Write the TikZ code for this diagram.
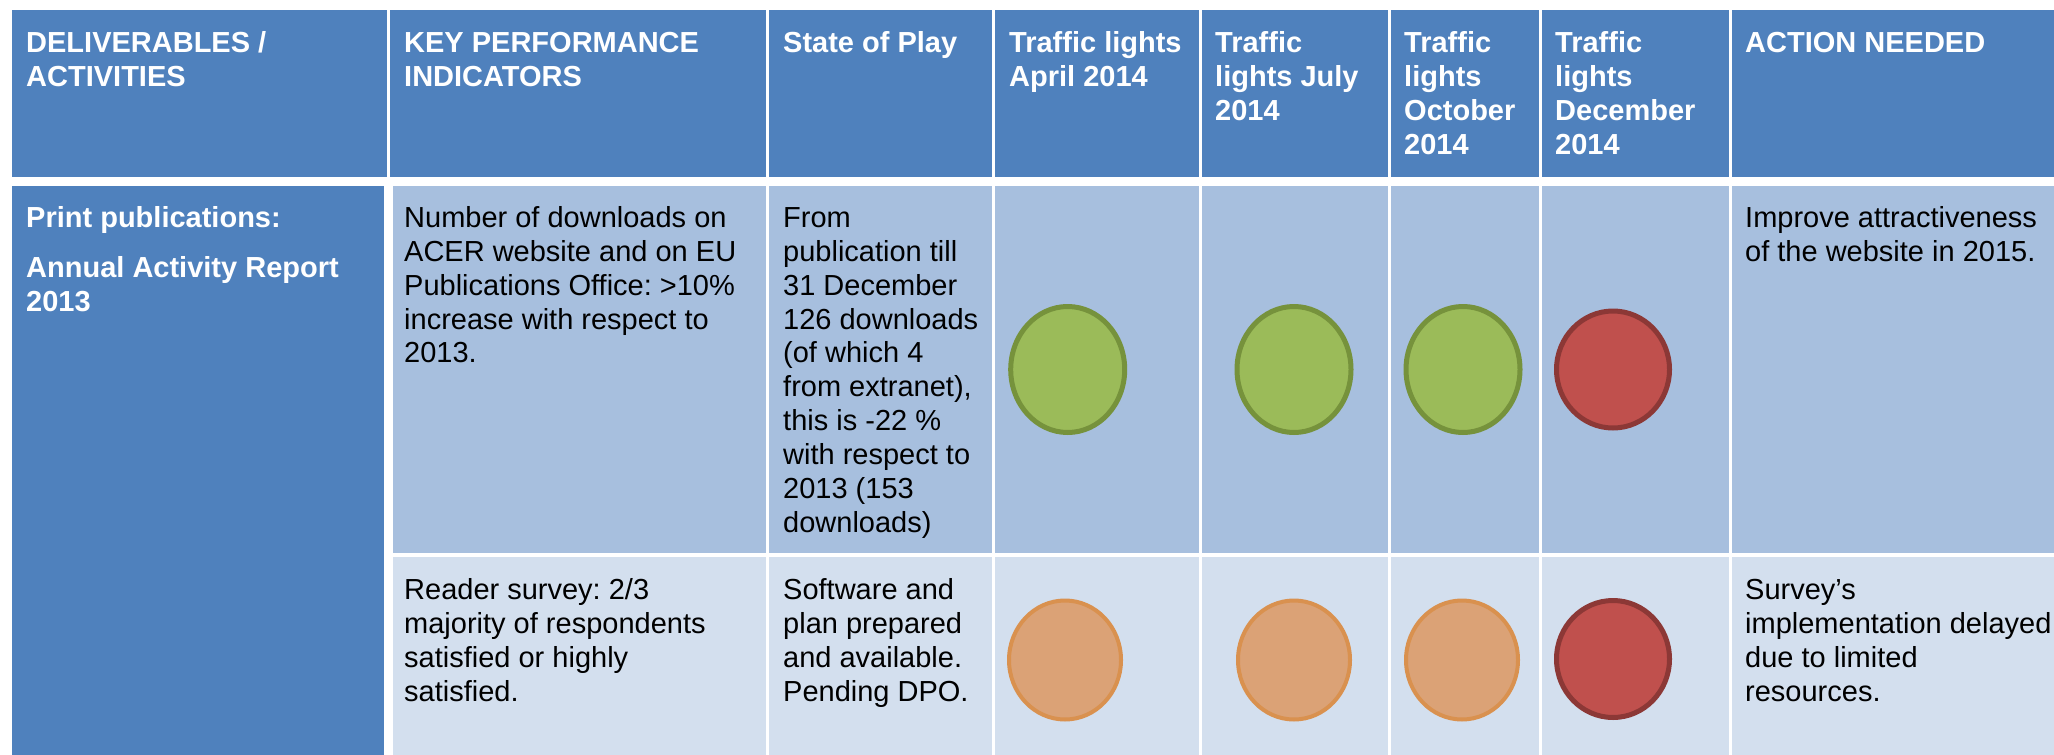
\documentclass[tikz,border=0pt]{standalone}
\usepackage{fontspec}
\setmainfont{Liberation Sans}
\usetikzlibrary{shapes.geometric}
\definecolor{hdrblue}{HTML}{4F81BD}
\definecolor{rowone}{HTML}{A7BFDE}
\definecolor{rowtwo}{HTML}{D3DFEE}
\definecolor{grnfill}{HTML}{9BBB59}
\definecolor{grnline}{HTML}{76923C}
\definecolor{redfill}{HTML}{C0504D}
\definecolor{redline}{HTML}{8C3836}
\definecolor{orgfill}{HTML}{DBA276}
\definecolor{orgline}{HTML}{D9914F}
\frenchspacing
\tikzset{
  hdrtxt/.style={anchor=base west, inner sep=0pt, text=white, font=\fontsize{29}{33.9}\selectfont\bfseries\frenchspacing},
  bodytxt/.style={anchor=base west, inner sep=0pt, text=black, font=\fontsize{29}{33.9}\selectfont\frenchspacing},
  lamp/.style={ellipse, inner sep=0pt},
  greenlamp/.style={lamp, fill=grnfill, draw=grnline, line width=5pt, minimum width=114pt, minimum height=126pt},
  redlamp/.style={lamp, fill=redfill, draw=redline, line width=5pt, minimum width=113pt, minimum height=117pt},
  orangelamp/.style={lamp, fill=orgfill, draw=orgline, line width=4pt, minimum width=112pt, minimum height=119pt},
}
\newcommand\cm{,}
\newcommand\celllines[5]{%
  \foreach \l [count=\i] in {#5}{\node[#1] (#2-\i) at (#3,{#4+(\i-1)*33.9}) {\l};}}
\begin{document}
\begin{tikzpicture}[x=1pt,y=-1pt]
\useasboundingbox (0,0) rectangle (2054,755);
\clip (0,0) rectangle (2054,755);
\fill[white] (0,0) rectangle (2054,755);
% header cells
\fill[hdrblue] (12,10) rectangle (387,176.7);
\fill[hdrblue] (390,10) rectangle (766,176.7);
\fill[hdrblue] (769,10) rectangle (992,176.7);
\fill[hdrblue] (995,10) rectangle (1199,176.7);
\fill[hdrblue] (1202,10) rectangle (1388,176.7);
\fill[hdrblue] (1391,10) rectangle (1539,176.7);
\fill[hdrblue] (1542,10) rectangle (1729,176.7);
\fill[hdrblue] (1732,10) rectangle (2060,176.7);
% first column body
\fill[hdrblue] (12,186) rectangle (384,760);
% row 1
\fill[rowone] (393,186) rectangle (766,553.3);
\fill[rowone] (769,186) rectangle (992,553.3);
\fill[rowone] (995,186) rectangle (1199,553.3);
\fill[rowone] (1202,186) rectangle (1388,553.3);
\fill[rowone] (1391,186) rectangle (1539,553.3);
\fill[rowone] (1542,186) rectangle (1729,553.3);
\fill[rowone] (1732,186) rectangle (2060,553.3);
% row 2
\fill[rowtwo] (393,556.8) rectangle (766,760);
\fill[rowtwo] (769,556.8) rectangle (992,760);
\fill[rowtwo] (995,556.8) rectangle (1199,760);
\fill[rowtwo] (1202,556.8) rectangle (1388,760);
\fill[rowtwo] (1391,556.8) rectangle (1539,760);
\fill[rowtwo] (1542,556.8) rectangle (1729,760);
\fill[rowtwo] (1732,556.8) rectangle (2060,760);
% header texts
\celllines{hdrtxt}{hA}{26}{52.3}{DELIVERABLES /,ACTIVITIES}
\celllines{hdrtxt}{hB}{404}{52.3}{KEY PERFORMANCE,INDICATORS}
\celllines{hdrtxt}{hC}{783}{52.3}{State of Play}
\celllines{hdrtxt}{hD}{1009}{52.3}{Traffic lights,April 2014}
\celllines{hdrtxt}{hE}{1215}{52.3}{Traffic,lights July,2014}
\celllines{hdrtxt}{hF}{1404}{52.3}{Traffic,lights,October,2014}
\celllines{hdrtxt}{hG}{1555}{52.3}{Traffic,lights,December,2014}
\celllines{hdrtxt}{hH}{1745}{52.3}{ACTION NEEDED}
% first column body text
\node[hdrtxt] (pp) at (26,227.5) {Print publications:};
\celllines{hdrtxt}{aar}{26}{277.3}{Annual Activity Report,2013}
% row 1 texts
\celllines{bodytxt}{kpiA}{404}{227.3}{Number of downloads on,ACER website and on EU,Publications Office: >10\%,increase with respect to,2013.}
\celllines{bodytxt}{sopA}{783}{227.3}{From,publication till,31 December,126 downloads,{(of which 4},from extranet)\cm,this is -22 \%,with respect to,2013 (153,downloads)}
\celllines{bodytxt}{actA}{1745}{227.3}{Improve attractiveness,of the website in 2015.}
% row 2 texts
\celllines{bodytxt}{kpiB}{404}{599.5}{Reader survey: 2/3,majority of respondents,satisfied or highly,satisfied.}
\celllines{bodytxt}{sopB}{783}{599.5}{Software and,plan prepared,and available.,Pending DPO.}
\celllines{bodytxt}{actB}{1745}{599.5}{Survey’s,implementation delayed,due to limited,resources.}
% traffic lights row 1
\node[greenlamp] (l1a) at (1067.7,369.5) {};
\node[greenlamp] (l1b) at (1294,369.5) {};
\node[greenlamp] (l1c) at (1463,369.5) {};
\node[redlamp] (l1d) at (1613,369.5) {};
% traffic lights row 2
\node[orangelamp] (l2a) at (1065,660) {};
\node[orangelamp] (l2b) at (1294,660) {};
\node[orangelamp] (l2c) at (1462,660) {};
\node[redlamp] (l2d) at (1613,659) {};
\end{tikzpicture}
\end{document}
